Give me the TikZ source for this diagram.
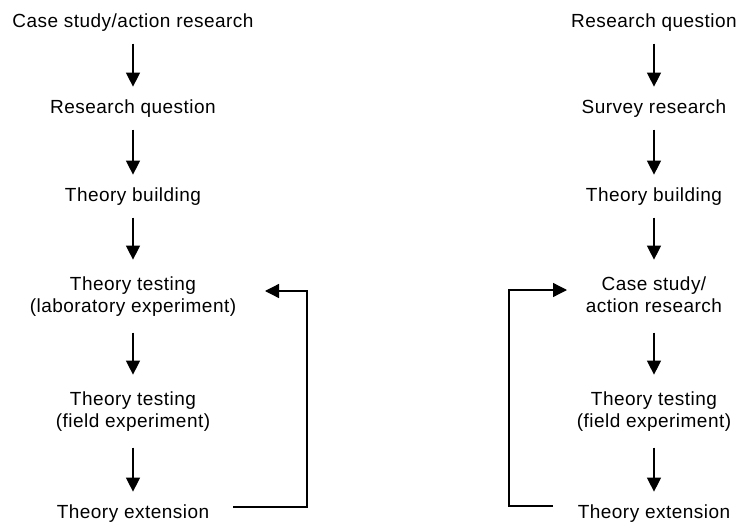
\documentclass[tikz,border=0pt]{standalone}
\usepackage{fontspec}
\setmainfont{Liberation Sans}[LetterSpace=2.5]
\usetikzlibrary{arrows.meta}

% each text line carries the height and depth of a parenthesis
\newcommand{\txtline}[1]{\vphantom{(}#1}

\begin{document}
\begin{tikzpicture}[
    x=1pt, y=-1pt,
    every node/.style={font=\fontsize{19}{22}\selectfont, align=center,
                       inner sep=0pt, outer xsep=0pt},
    oneline/.style={outer ysep=12.6pt},
    twoline/.style={outer ysep=16.6pt},
    flow/.style={line width=1.3pt, -{Triangle[length=14pt,width=14pt]}},
    loopline/.style={line width=1.3pt, -{Triangle[length=14pt,width=14pt]}}
  ]
  \useasboundingbox (0,0) rectangle (737,522);

  % left sequence
  \node[oneline] (l1) at (133,22.1)  {\txtline{Case study/action research}};
  \node[oneline] (l2) at (133,108.1) {\txtline{Research question}};
  \node[oneline] (l3) at (133,196.1) {\txtline{Theory building}};
  \node[twoline] (l4) at (133,296.1) {\txtline{Theory testing}\\\txtline{(laboratory experiment)}};
  \node[twoline] (l5) at (133,411.1) {\txtline{Theory testing}\\\txtline{(field experiment)}};
  \node[oneline] (l6) at (133,513.1) {\txtline{Theory extension}};

  \draw[flow] (l1) -- (l2);
  \draw[flow] (l2) -- (l3);
  \draw[flow] (l3) -- (l4);
  \draw[flow] (l4) -- (l5);
  \draw[flow] (l5) -- (l6);

  % left feedback loop
  \coordinate (lfrom) at (233,507);
  \coordinate (lto)   at (265,291);
  \draw[loopline] (lfrom) -| (307,291) -- (lto);

  % right sequence
  \node[oneline] (r1) at (654,22.1)  {\txtline{Research question}};
  \node[oneline] (r2) at (654,108.1) {\txtline{Survey research}};
  \node[oneline] (r3) at (654,196.1) {\txtline{Theory building}};
  \node[twoline] (r4) at (654,296.1) {\txtline{Case study/}\\\txtline{action research}};
  \node[twoline] (r5) at (654,411.1) {\txtline{Theory testing}\\\txtline{(field experiment)}};
  \node[oneline] (r6) at (654,513.1) {\txtline{Theory extension}};

  \draw[flow] (r1) -- (r2);
  \draw[flow] (r2) -- (r3);
  \draw[flow] (r3) -- (r4);
  \draw[flow] (r4) -- (r5);
  \draw[flow] (r5) -- (r6);

  % right feedback loop
  \coordinate (rfrom) at (553,506);
  \coordinate (rto)   at (567,290);
  \draw[loopline] (rfrom) -| (509,290) -- (rto);
\end{tikzpicture}
\end{document}
